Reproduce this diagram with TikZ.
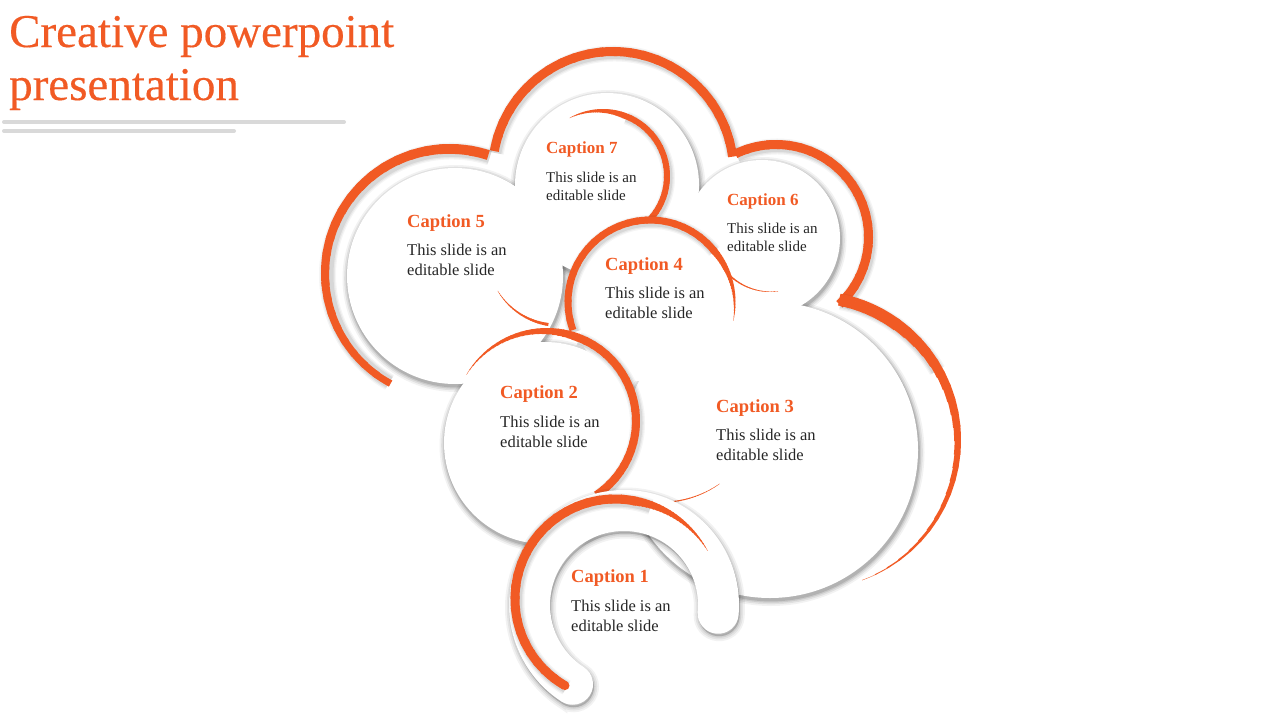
\documentclass[tikz,border=0pt]{standalone}
\usepackage{fontspec}
\setmainfont{Liberation Serif}
\newfontfamily\titlefont[FakeBold=0.3]{Liberation Serif}
\definecolor{brand}{RGB}{241,90,36}
\definecolor{bodyc}{RGB}{38,38,38}
\definecolor{rulec}{RGB}{217,217,217}
% soft shadow of a disk: cx cy r
\newcommand\shadowdisk[3]{%
  \foreach \w/\o in {5.5/0.05,3.8/0.07,2.2/0.09,0.9/0.12}{\fill[black,opacity=\o] (#1+1,#2+2.5) circle[radius=#3+\w];}}
\newcommand\whitedisk[3]{\fill[white] (#1,#2) circle[radius=#3];}
% tapered orange arc: cx cy outer-r a b w1 w2
\newcommand\orarc[7]{%
  \foreach \i in {0,...,23}{%
    \pgfmathsetmacro\oraA{#4+(#5-#4)*\i/24}%
    \pgfmathsetmacro\oraB{#4+(#5-#4)*(\i+1.25)/24}%
    \pgfmathsetmacro\oraW{#6+(#7-#6)*\i/23}%
    \pgfmathsetmacro\oraR{#3-\oraW/2}%
    \draw[oline, line width=\oraW pt] (#1,#2) ++(\oraA:\oraR) arc[start angle=\oraA, end angle=\oraB, radius=\oraR];}}
% soft shade under an arc: cx cy r a b w
\newcommand\arcshade[6]{%
  \foreach \w/\o in {7/0.04,4.5/0.05,2/0.07}{\draw[black,opacity=\o,line width=#6pt+\w pt] (#1+1.5,#2+2) ++(#4:#3) arc[start angle=#4,end angle=#5,radius=#3];}}
\newcommand\cpath{(624,605) ++(123:115) arc[start angle=123,end angle=365,radius=115] arc[start angle=5,end angle=185,radius=20.5] arc[start angle=365,end angle=123,radius=74] arc[start angle=303,end angle=483,radius=20.5] -- cycle}
\begin{document}
\begin{tikzpicture}[x=1pt,y=-1pt,
  oline/.style={draw=brand, line cap=butt},
  titletext/.style={font=\titlefont\fontsize{47}{50}\selectfont, text=brand, anchor=base west, inner sep=0pt},
  capbig/.style={font=\bfseries\fontsize{18.5}{20}\selectfont, text=brand, anchor=base west, inner sep=0pt},
  bodybig/.style={font=\fontsize{16.5}{20}\selectfont, text=bodyc, anchor=base west, inner sep=0pt, align=left},
  capsmall/.style={font=\bfseries\fontsize{17}{18}\selectfont, text=brand, anchor=base west, inner sep=0pt},
  bodysmall/.style={font=\fontsize{15}{18}\selectfont, text=bodyc, anchor=base west, inner sep=0pt, align=left},
  rule/.style={draw=rulec, line width=4pt, line cap=round}]
\fill[white] (0,0) rectangle (1280,720);
\useasboundingbox (0,0) rectangle (1280,720);

% title
\node[titletext] (t1) at (9,47) {Creative powerpoint};
\node[titletext] (t2) at (9,100) {presentation};
\coordinate (r1a) at (4,122); \coordinate (r1b) at (344,122);
\coordinate (r2a) at (4,131); \coordinate (r2b) at (234,131);
\draw[rule] (r1a) -- (r1b);
\draw[rule] (r2a) -- (r2b);

% outer lobes
\arcshade{613}{172}{120.5}{190}{351}{9}
\orarc{613}{172}{125}{190}{351}{9}{9}
\arcshade{450}{273}{124}{288}{120}{10}
\orarc{450}{273}{129}{288}{120}{10}{7}
\arcshade{776}{237}{92.5}{244}{405}{9}
\orarc{776}{237}{97}{244}{405}{9}{9}
\arcshade{812}{440}{143}{281}{330}{10}
\orarc{812}{440}{149}{281}{300}{12}{12}
\orarc{812}{440}{149}{300}{429}{12}{0.3}

% cloud of inner disks: shadows first, then white
\shadowdisk{607}{185}{92}
\shadowdisk{455}{276}{108}
\shadowdisk{762}{238}{78}
\shadowdisk{770}{450}{148}
\shadowdisk{545}{443}{101}
\whitedisk{607}{185}{92}
\whitedisk{455}{276}{108}
\whitedisk{762}{238}{78}
\whitedisk{770}{450}{148}
\whitedisk{545}{443}{101}

% thin accents
\orarc{560}{255}{72}{150}{100}{0.3}{3}
\orarc{770}{232}{60}{155}{83}{2}{0.3}
\orarc{660}{400}{103}{95}{55}{1.5}{0.3}
% caption 7 arc
\arcshade{603}{176}{64}{290}{403}{6}
\orarc{603}{176}{67}{240}{290}{0.3}{6}
\orarc{603}{176}{67}{290}{403}{6}{6}
% caption 4
\whitedisk{650}{302}{80}
\arcshade{650}{302}{82}{160}{320}{7}
\orarc{650}{302}{85.5}{160}{320}{7}{7}
\orarc{650}{302}{85.5}{320}{372}{7}{0.3}
% caption 2 arc
\arcshade{547}{421}{89}{290}{415}{8}
\orarc{547}{421}{93}{210}{290}{0.3}{8}
\orarc{547}{421}{93}{290}{415}{8}{8}

% caption 1 ring
\foreach \w/\o in {10/0.05,6.5/0.06,3/0.08}{\path[fill=black,draw=black,line width=\w pt,opacity=\o,shift={(1,2.5)}] \cpath;}
\fill[white] \cpath;
\arcshade{615}{599}{100}{120}{290}{9}
\orarc{615}{599}{104.5}{120}{280}{9}{9}
\orarc{615}{599}{104.5}{280}{332}{9}{0.3}
\fill[brand] (615,599) ++(120:100) circle[radius=4.5];

% texts (body nodes anchored on the baseline of their last line)
\node[capbig] (c1) at (571,582) {Caption 1};
\node[bodybig] (b1) at (571,631) {This slide is an\\editable slide};
\node[capbig] (c2) at (500,398) {Caption 2};
\node[bodybig] (b2) at (500,447) {This slide is an\\editable slide};
\node[capbig] (c3) at (716,412) {Caption 3};
\node[bodybig] (b3) at (716,460) {This slide is an\\editable slide};
\node[capbig] (c4) at (605,270) {Caption 4};
\node[bodybig] (b4) at (605,318) {This slide is an\\editable slide};
\node[capbig] (c5) at (407,227) {Caption 5};
\node[bodybig] (b5) at (407,275) {This slide is an\\editable slide};
\node[capsmall] (c6) at (727,205) {Caption 6};
\node[bodysmall] (b6) at (727,251) {This slide is an\\editable slide};
\node[capsmall] (c7) at (546,153) {Caption 7};
\node[bodysmall] (b7) at (546,200) {This slide is an\\editable slide};
\end{tikzpicture}
\end{document}
